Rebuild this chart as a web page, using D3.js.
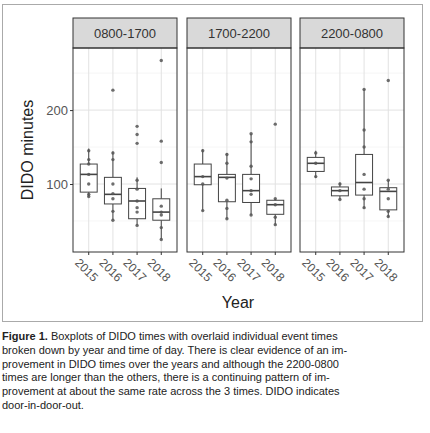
<!DOCTYPE html>
<html>
<head>
<meta charset="utf-8">
<script src="https://cdn.jsdelivr.net/npm/d3@7"></script>
<style>
  body { margin: 0; background: #fff; }
  svg text { font-family: "Liberation Sans", Arial, sans-serif; }
</style>
</head>
<body>
<div id="chart"></div>
<script>
const panels = ["0800-1700", "1700-2200", "2200-0800"]
const years = ["2015", "2016", "2017", "2018"]
// per panel, per year: [lowWhisker, q1, median, q3, highWhisker]
const boxStats = [
  [[83, 89, 113, 127, 148], [51, 73, 86, 109, 144], [44, 53, 77, 94, 109], [25, 51, 62, 80, 94]],
  [[64, 99, 110, 127, 147], [53, 76, 109, 113, 142], [58, 75, 91, 113, 168], [45, 59, 72, 78, 80]],
  [[108, 117, 128, 136, 145], [79, 84, 91, 96, 102], [67, 85, 102, 140, 228], [55, 65, 90, 95, 105]]
]
const pointVals = [
  [[145, 133, 127, 113, 100, 86, 83], [227, 142, 133, 100, 87, 80, 63, 51], [178, 167, 155, 105, 93, 77, 68, 62, 44], [267, 158, 129, 70, 62, 58, 41, 25]],
  [[145, 110, 100, 64], [140, 128, 108, 78, 67, 53], [168, 157, 124, 107, 91, 86, 58], [181, 80, 72, 55, 45]],
  [[142, 128, 110], [100, 91, 79], [228, 173, 150, 113, 93, 80, 68], [240, 105, 93, 80, 63, 56]]
]
const yTicks = [100, 200]
const caption = [
  ["Figure 1.", " Boxplots of DIDO times with overlaid individual event times"],
  ["", "broken down by year and time of day. There is clear evidence of an im-"],
  ["", "provement in DIDO times over the years and although the 2200-0800"],
  ["", "times are longer than the others, there is a continuing pattern of im-"],
  ["", "provement at about the same rate across the 3 times. DIDO indicates"],
  ["", "door-in-door-out."]
]

const W = 430, H = 433
const svg = d3.select("#chart").append("svg").attr("width", W).attr("height", H)

svg.append("rect").attr("x", 2.5).attr("y", 4.5).attr("width", 420).attr("height", 317)
  .attr("fill", "none").attr("stroke", "#aaa").attr("stroke-width", 1)

const plotTop = 48, plotBottom = 252, stripTop = 18
const panelX = [73, 187, 300], panelW = 104
const y = d3.scaleLinear().domain([8, 284]).range([plotBottom, plotTop])
const grey = "#444"

panels.forEach((name, p) => {
  const g = svg.append("g").attr("transform", `translate(${panelX[p]},0)`)
  const x = d3.scaleBand().domain(years).range([0, panelW]).padding(0.3)

  // grid
  const minor = [50, 150, 250]
  g.selectAll(".gmin").data(minor).enter().append("line")
    .attr("x1", 0).attr("x2", panelW).attr("y1", d => y(d)).attr("y2", d => y(d))
    .attr("stroke", "#f0f0f0").attr("stroke-width", 0.6)
  g.selectAll(".gmaj").data(yTicks).enter().append("line")
    .attr("x1", 0).attr("x2", panelW).attr("y1", d => y(d)).attr("y2", d => y(d))
    .attr("stroke", "#e2e2e2").attr("stroke-width", 1)
  g.selectAll(".gx").data(years).enter().append("line")
    .attr("x1", d => x(d) + x.bandwidth() / 2).attr("x2", d => x(d) + x.bandwidth() / 2)
    .attr("y1", plotTop).attr("y2", plotBottom).attr("stroke", "#e2e2e2")

  // strip
  g.append("rect").attr("x", 0).attr("y", stripTop).attr("width", panelW).attr("height", plotTop - stripTop)
    .attr("fill", "#d9d9d9").attr("stroke", "#333").attr("stroke-width", 1)
  g.append("text").attr("x", panelW / 2).attr("y", 38).attr("text-anchor", "middle")
    .attr("font-size", 13).attr("fill", "#333").text(name)

  years.forEach((yr, i) => {
    const s = boxStats[p][i]
    const cx = x(yr) + x.bandwidth() / 2
    g.append("line").attr("x1", cx).attr("x2", cx).attr("y1", y(s[0])).attr("y2", y(s[1])).attr("stroke", grey)
    g.append("line").attr("x1", cx).attr("x2", cx).attr("y1", y(s[3])).attr("y2", y(s[4])).attr("stroke", grey)
    g.append("rect").attr("x", x(yr)).attr("width", x.bandwidth())
      .attr("y", y(s[3])).attr("height", y(s[1]) - y(s[3]))
      .attr("fill", "#fff").attr("stroke", grey).attr("stroke-width", 1)
    g.append("line").attr("x1", x(yr)).attr("x2", x(yr) + x.bandwidth())
      .attr("y1", y(s[2])).attr("y2", y(s[2])).attr("stroke", grey).attr("stroke-width", 1.6)
    g.selectAll(".pt" + i).data(pointVals[p][i]).enter().append("circle")
      .attr("cx", cx).attr("cy", d => y(d)).attr("r", 1.7).attr("fill", "#555").attr("opacity", 0.85)
  })

  g.append("rect").attr("x", 0).attr("y", plotTop).attr("width", panelW).attr("height", plotBottom - plotTop)
    .attr("fill", "none").attr("stroke", "#333").attr("stroke-width", 1)

  // x axis
  const xa = g.append("g").attr("transform", `translate(0,${plotBottom})`)
    .call(d3.axisBottom(x).tickSize(3).tickPadding(2))
  xa.select(".domain").remove()
  xa.selectAll("line").attr("stroke", "#333")
  xa.selectAll("text").attr("font-size", 12).attr("fill", "#555")
    .attr("text-anchor", "start").attr("transform", "translate(-5,2) rotate(45)")
    .attr("dy", "0.7em")
})

// y axis
const ya = svg.append("g").attr("transform", `translate(${panelX[0]},0)`)
  .call(d3.axisLeft(y).tickValues(yTicks).tickSize(3).tickPadding(2))
ya.select(".domain").remove()
ya.selectAll("line").attr("stroke", "#333")
ya.selectAll("text").attr("font-size", 13).attr("fill", "#555")

svg.append("text").attr("transform", "translate(33,150) rotate(-90)").attr("text-anchor", "middle")
  .attr("font-size", 16).attr("fill", "#222").text("DIDO minutes")
svg.append("text").attr("x", 238).attr("y", 308).attr("text-anchor", "middle")
  .attr("font-size", 16).attr("fill", "#222").text("Year")

const cap = svg.append("g")
caption.forEach((ln, i) => {
  const t = cap.append("text").attr("x", 2).attr("y", 340 + i * 13.8).attr("font-size", 11).attr("fill", "#222")
  if (ln[0]) t.append("tspan").attr("font-weight", "bold").text(ln[0])
  t.append("tspan").text(ln[1])
})
</script>
</body>
</html>
